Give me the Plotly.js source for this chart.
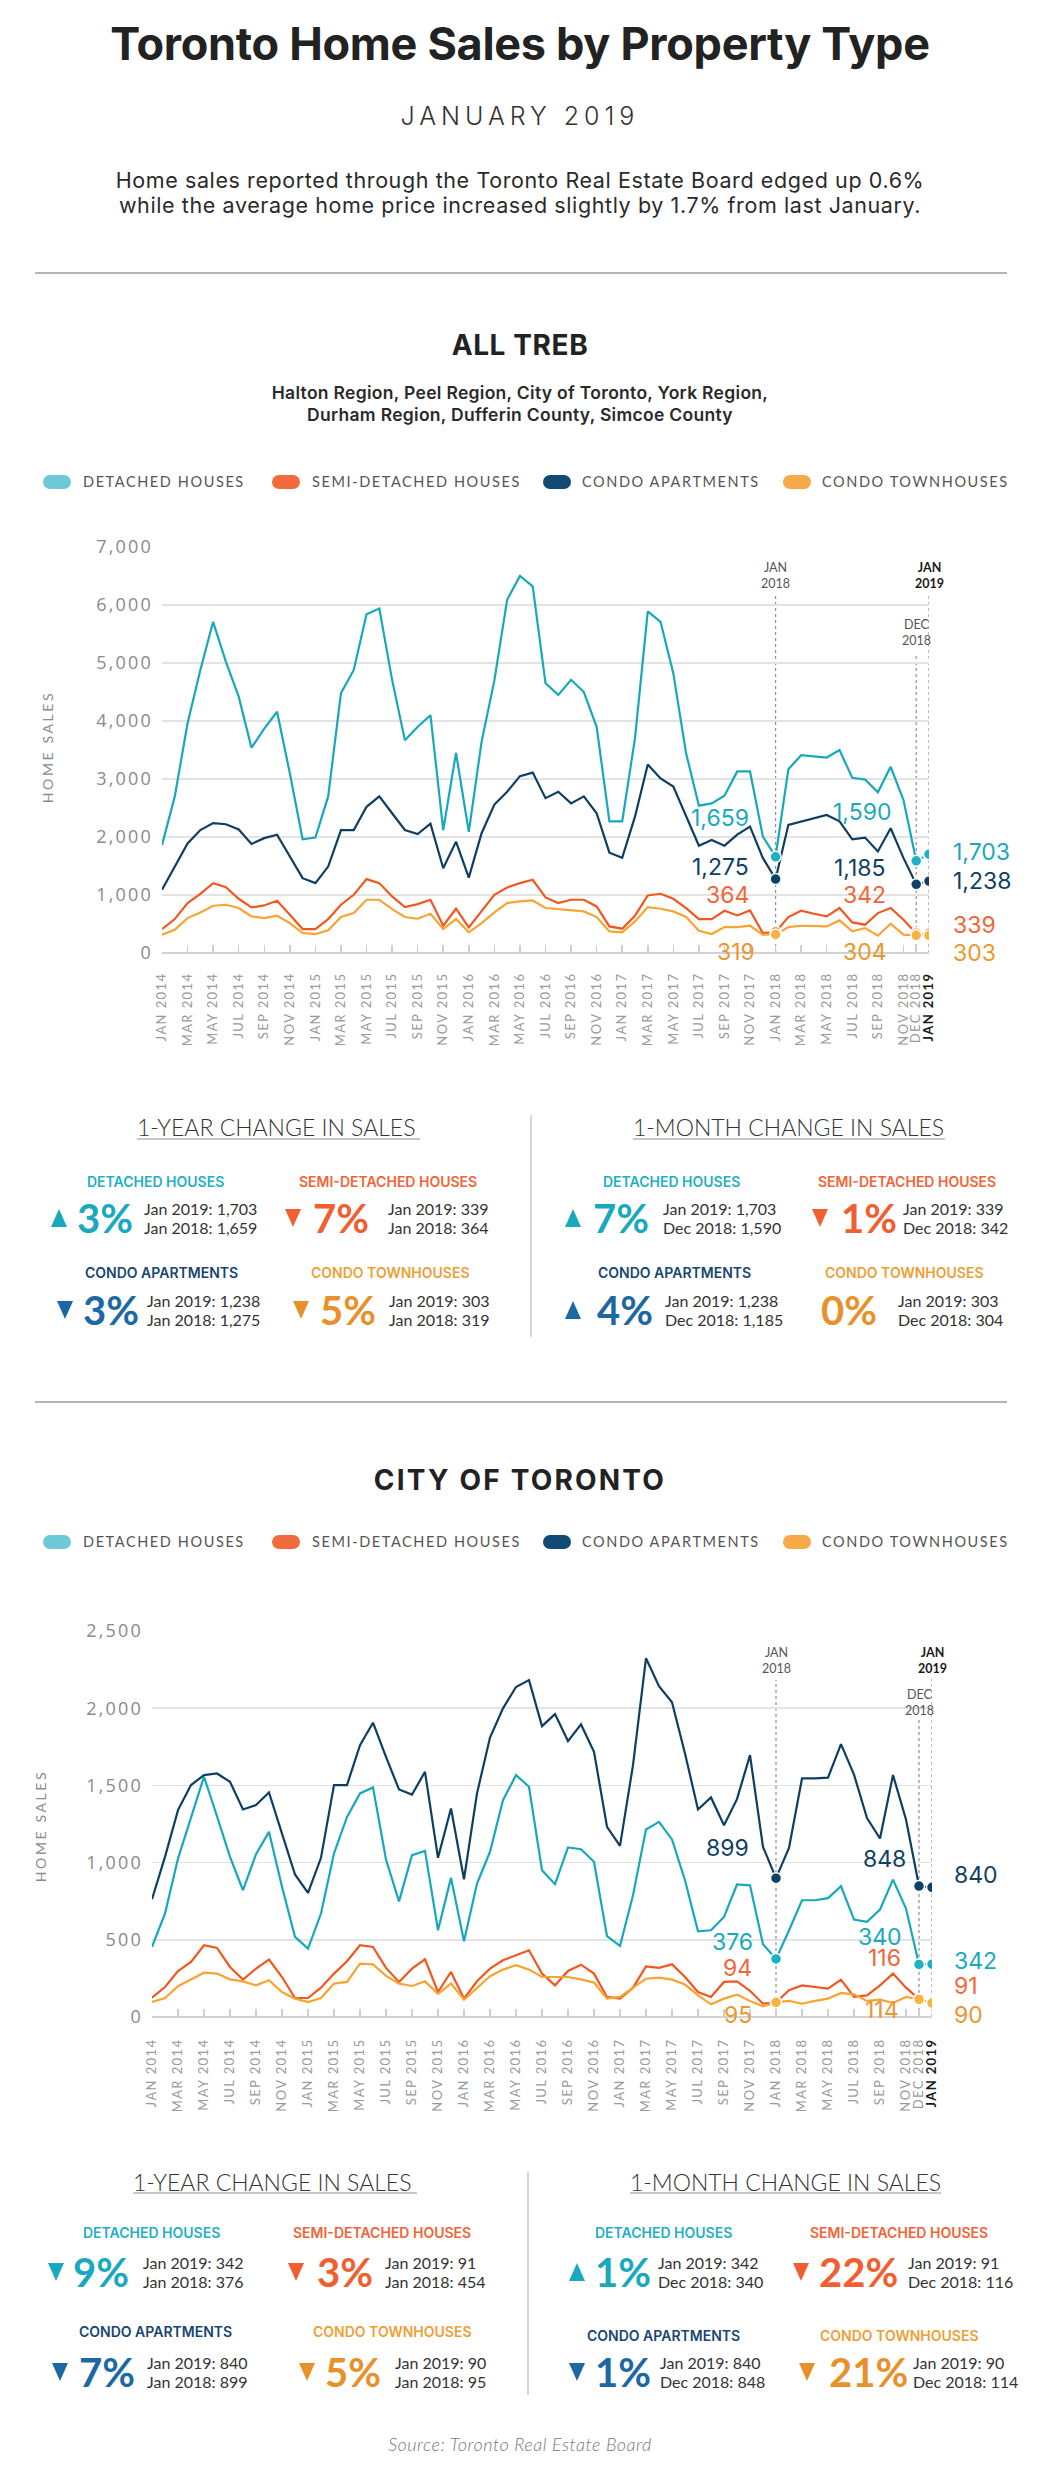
<!DOCTYPE html>
<html><head><meta charset="utf-8">
<script src="https://cdn.plot.ly/plotly-3.0.1.min.js"></script>
<style>
body{margin:0;background:#fff;}
#page{position:relative;width:1040px;height:2470px;overflow:hidden;font-family:Lato,"Open Sans",sans-serif;color:#333;background:#fff;}
.t{position:absolute;white-space:nowrap;}
.xtick text{letter-spacing:1.4px;}
.ytick text{letter-spacing:2.2px;}
.chart{position:absolute;left:0;width:1040px;}
.ytitle{position:absolute;white-space:nowrap;transform:translate(-50%,-50%) rotate(-90deg);font-family:Lato,sans-serif;font-size:14px;letter-spacing:2.6px;color:#8c8c8c;}
</style></head>
<body><div id="page">
<div id="chartAll" class="chart" style="top:500px;height:560px;"></div>
<div id="chartCity" class="chart" style="top:1590px;height:530px;"></div>
</div>
<script>
// ---------- DATA ----------
const monthNames = ['JAN','FEB','MAR','APR','MAY','JUN','JUL','AUG','SEP','OCT','NOV','DEC'];
const months = [];
for (let yr = 2014; yr <= 2018; yr++) { for (const m of monthNames) months.push(m + ' ' + yr); }
months.push('JAN 2019');

const tickLabels = ['JAN 2014','MAR 2014','MAY 2014','JUL 2014','SEP 2014','NOV 2014',
  'JAN 2015','MAR 2015','MAY 2015','JUL 2015','SEP 2015','NOV 2015',
  'JAN 2016','MAR 2016','MAY 2016','JUL 2016','SEP 2016','NOV 2016',
  'JAN 2017','MAR 2017','MAY 2017','JUL 2017','SEP 2017','NOV 2017',
  'JAN 2018','MAR 2018','MAY 2018','JUL 2018','SEP 2018','NOV 2018','DEC 2018','JAN 2019'];

// ALL TREB
const detachedAll = [1860,2700,3960,4880,5710,5020,4420,3540,3870,4160,3100,1960,1990,2700,4480,4880,5840,5940,4710,3670,3900,4100,2120,3450,2090,3640,4700,6090,6500,6320,4650,4450,4710,4500,3900,2270,2270,3700,5890,5710,4820,3440,2540,2580,2710,3130,3130,2010,1659,3170,3410,3390,3370,3500,3020,2990,2770,3210,2640,1590,1703];
const semiAll = [413,585,861,1021,1205,1136,935,786,820,901,660,413,413,585,832,1004,1274,1205,975,792,843,918,470,763,442,717,1004,1130,1205,1262,958,860,918,918,803,459,419,643,993,1021,935,775,585,585,729,648,734,345,364,620,729,677,631,775,528,488,688,775,574,342,339];
const condoAptAll = [1090,1490,1890,2120,2240,2220,2130,1880,1980,2040,1660,1290,1205,1490,2120,2120,2520,2700,2410,2120,2050,2230,1460,1920,1300,2065,2560,2780,3050,3110,2670,2780,2580,2700,2410,1730,1640,2350,3250,3010,2870,2350,1850,1950,1850,2040,2180,1640,1275,2210,2270,2320,2380,2270,1960,1990,1750,2150,1640,1185,1238];
const condoTownAll = [316,402,602,700,815,832,775,631,602,643,516,344,327,390,620,688,918,918,757,620,591,677,413,585,356,516,700,861,889,906,775,757,746,717,620,373,356,545,792,763,717,620,384,327,447,447,470,316,319,447,470,470,459,562,373,430,298,505,316,304,303];

// CITY OF TORONTO
const detachedCity = [454,670,1026,1296,1556,1300,1037,821,1054,1199,843,519,443,670,1059,1296,1448,1487,1020,749,1048,1076,562,901,490,864,1070,1404,1567,1491,951,860,1098,1087,1005,523,460,789,1214,1264,1150,886,555,562,648,858,853,471,376,560,756,756,770,847,631,616,696,890,702,340,342];
const semiCity = [125,194,298,357,465,447,324,242,313,372,259,123,123,190,281,361,465,454,318,227,313,374,162,292,119,231,313,367,400,432,281,205,298,339,281,130,119,190,328,318,341,259,162,130,227,231,170,86,94,173,205,194,184,242,130,140,205,281,190,116,91];
const condoAptCity = [763,1037,1340,1502,1567,1577,1523,1344,1372,1454,1188,923,804,1031,1502,1502,1761,1906,1685,1474,1441,1588,1031,1350,892,1448,1810,1999,2137,2182,1884,1962,1787,1895,1718,1232,1108,1631,2323,2143,2038,1707,1344,1422,1242,1411,1696,1102,899,1095,1545,1545,1550,1767,1570,1289,1156,1567,1279,848,840];
const condoTownCity = [97,123,199,242,287,281,244,231,205,238,162,119,97,123,216,227,346,341,266,216,201,231,151,216,112,188,264,307,335,307,259,259,259,244,223,119,130,190,248,255,242,210,140,82,119,145,104,69,95,104,86,104,119,156,147,104,112,91,130,114,90];

const seriesNames = ['DETACHED HOUSES','SEMI-DETACHED HOUSES','CONDO APARTMENTS','CONDO TOWNHOUSES'];

// ---------- STYLE ----------
const lineColors = ['#17a8bc','#f0581f','#0e3f63','#f7a431'];
const dotColors  = ['#1db1c4','#f2663b','#0f4166','#f9b340'];
const labelColors= ['#1aa9bc','#f26537','#0f3f63','#e9972e'];
const legendColors = ['#6ec9d6','#f26b3d','#114b74','#f6a947'];

const page = document.getElementById('page');
function addText(html, o) {
  const d = document.createElement('div');
  d.className = 't';
  d.innerHTML = html;
  const h = o.h || Math.round(o.size * 1.4);
  d.style.top = (o.y - h / 2) + 'px';
  d.style.height = h + 'px';
  d.style.lineHeight = h + 'px';
  d.style.fontSize = o.size + 'px';
  d.style.fontWeight = o.weight || 400;
  d.style.color = o.color || '#333';
  if (o.family) d.style.fontFamily = o.family;
  if (o.ls) d.style.letterSpacing = o.ls + 'px';
  if (o.italic) d.style.fontStyle = 'italic';
  if (o.center) { d.style.left = '0px'; d.style.width = '1040px'; d.style.textAlign = 'center'; }
  else d.style.left = o.x + 'px';
  page.appendChild(d);
  return d;
}
function addBox(x, y, w, h, color, radius) {
  const d = document.createElement('div');
  d.style.position = 'absolute';
  d.style.left = x + 'px'; d.style.top = y + 'px';
  d.style.width = w + 'px'; d.style.height = h + 'px';
  d.style.background = color;
  if (radius) d.style.borderRadius = radius + 'px';
  page.appendChild(d);
}
function addTri(x, yc, up, color) {
  const d = document.createElement('div');
  d.style.position = 'absolute';
  d.style.left = x + 'px'; d.style.top = (yc - 9) + 'px';
  d.style.width = '0'; d.style.height = '0';
  d.style.borderLeft = '8.5px solid transparent';
  d.style.borderRight = '8.5px solid transparent';
  if (up) d.style.borderBottom = '18px solid ' + color;
  else d.style.borderTop = '18px solid ' + color;
  page.appendChild(d);
}
function addYTitle(x, y) {
  const d = document.createElement('div');
  d.className = 'ytitle';
  d.textContent = 'HOME SALES';
  d.style.left = x + 'px'; d.style.top = y + 'px';
  page.appendChild(d);
}

const INTER = 'Inter, Lato, sans-serif';
// ---------- HEADER ----------
addText('Toronto Home Sales by Property Type', {center:true, y:44, size:45, weight:700, color:'#222', h:58, family:INTER, ls:-0.3});
addText('JANUARY 2019', {center:true, y:116, size:25, weight:300, color:'#333', ls:5, family:INTER});
addText('Home sales reported through the Toronto Real Estate Board edged up 0.6%', {center:true, y:180, size:21.5, color:'#2a2a2a', h:25, family:INTER, ls:0.6});
addText('while the average home price increased slightly by 1.7% from last January.', {center:true, y:205, size:21.5, color:'#2a2a2a', h:25, family:INTER, ls:0.6});
addBox(35, 272, 972, 2, '#b4b4b4');

function sectionHead(title, yTitle, titleLs, sub, yLegend) {
  addText(title, {center:true, y:yTitle, size:28, weight:700, color:'#222', ls:titleLs, family:INTER});
  sub.forEach(s => addText(s.text, {center:true, y:s.y, size:17.5, weight:600, color:'#2a2a2a', h:22, family:INTER, ls:0.3}));
  const mx = [43, 272, 543, 783];
  const tx = [83, 312, 582, 822];
  seriesNames.forEach((n, k) => {
    addBox(mx[k], yLegend - 7, 28, 14, legendColors[k], 7);
    addText(n, {x:tx[k], y:yLegend, size:14.5, color:'#555', ls:1.6});
  });
}
sectionHead('ALL TREB', 345, 0.6, [
  {text:'Halton Region, Peel Region, City of Toronto, York Region,', y:393},
  {text:'Durham Region, Dufferin County, Simcoe County', y:415}], 482);
addBox(35, 1401, 972, 2, '#b4b4b4');
sectionHead('CITY OF TORONTO', 1480, 2.2, [], 1542);
addYTitle(47, 747);
addYTitle(40, 1826);

// ---------- STATS ----------
const catColors = {
  det:{label:'#1fb0c3', pct:'#18a9be'},
  semi:{label:'#f26436', pct:'#f15f30'},
  apt:{label:'#174670', pct:'#1b68a3'},
  th:{label:'#ef9e36', pct:'#e8912b'}
};
function statsBlock(cfg) {
  addText('1-YEAR CHANGE IN SALES', {x:cfg.h1x, y:cfg.hy, size:23, weight:300, color:'#333'});
  addText('1-MONTH CHANGE IN SALES', {x:cfg.h2x, y:cfg.hy, size:23, weight:300, color:'#333'});
  addBox(cfg.h1x, cfg.uy, cfg.h1w, 2, '#c9c9c9');
  addBox(cfg.h2x, cfg.uy, cfg.h2w, 2, '#c9c9c9');
  addBox(cfg.vx, cfg.vy0, 1.5, cfg.vy1 - cfg.vy0, '#d8d8d8');
  cfg.items.forEach(it => {
    const c = catColors[it.cat];
    addText(it.label, {x:it.lx, y:it.ly, size:14, weight:600, color:c.label, family:INTER});
    if (it.dir) addTri(it.tx, it.ny, it.dir === 'up', c.pct);
    addText(it.pt, {x:it.px, y:it.ny, size:40, weight:700, color:c.pct, h:46});
    addText(it.l1, {x:it.sx, y:it.ny - 9, size:16, color:'#333', h:18});
    addText(it.l2, {x:it.sx, y:it.ny + 10, size:16, color:'#333', h:18});
  });
}
statsBlock({hy:1127, uy:1138, h1x:137, h1w:283, h2x:633, h2w:312, vx:530, vy0:1115, vy1:1337, items:[
  {cat:'det', label:'DETACHED HOUSES', lx:87, ly:1182, dir:'up', tx:51, pt:'3%', px:77, ny:1218, sx:144, l1:'Jan 2019: 1,703', l2:'Jan 2018: 1,659'},
  {cat:'semi', label:'SEMI-DETACHED HOUSES', lx:299, ly:1182, dir:'down', tx:285, pt:'7%', px:313, ny:1218, sx:388, l1:'Jan 2019: 339', l2:'Jan 2018: 364'},
  {cat:'det', label:'DETACHED HOUSES', lx:603, ly:1182, dir:'up', tx:565, pt:'7%', px:593, ny:1218, sx:663, l1:'Jan 2019: 1,703', l2:'Dec 2018: 1,590'},
  {cat:'semi', label:'SEMI-DETACHED HOUSES', lx:818, ly:1182, dir:'down', tx:812, pt:'1%', px:841, ny:1218, sx:903, l1:'Jan 2019: 339', l2:'Dec 2018: 342'},
  {cat:'apt', label:'CONDO APARTMENTS', lx:85, ly:1273, dir:'down', tx:57, pt:'3%', px:83, ny:1310, sx:147, l1:'Jan 2019: 1,238', l2:'Jan 2018: 1,275'},
  {cat:'th', label:'CONDO TOWNHOUSES', lx:311, ly:1273, dir:'down', tx:293, pt:'5%', px:320, ny:1310, sx:389, l1:'Jan 2019: 303', l2:'Jan 2018: 319'},
  {cat:'apt', label:'CONDO APARTMENTS', lx:598, ly:1273, dir:'up', tx:565, pt:'4%', px:597, ny:1310, sx:665, l1:'Jan 2019: 1,238', l2:'Dec 2018: 1,185'},
  {cat:'th', label:'CONDO TOWNHOUSES', lx:825, ly:1273, dir:null, tx:0, pt:'0%', px:821, ny:1310, sx:898, l1:'Jan 2019: 303', l2:'Dec 2018: 304'}
]});
statsBlock({hy:2182, uy:2192, h1x:133, h1w:284, h2x:630, h2w:311, vx:527, vy0:2172, vy1:2395, items:[
  {cat:'det', label:'DETACHED HOUSES', lx:83, ly:2233, dir:'down', tx:48, pt:'9%', px:73, ny:2272, sx:143, l1:'Jan 2019: 342', l2:'Jan 2018: 376'},
  {cat:'semi', label:'SEMI-DETACHED HOUSES', lx:293, ly:2233, dir:'down', tx:288, pt:'3%', px:317, ny:2272, sx:385, l1:'Jan 2019: 91', l2:'Jan 2018: 454'},
  {cat:'det', label:'DETACHED HOUSES', lx:595, ly:2233, dir:'up', tx:569, pt:'1%', px:595, ny:2272, sx:658, l1:'Jan 2019: 342', l2:'Dec 2018: 340'},
  {cat:'semi', label:'SEMI-DETACHED HOUSES', lx:810, ly:2233, dir:'down', tx:793, pt:'22%', px:819, ny:2272, sx:908, l1:'Jan 2019: 91', l2:'Dec 2018: 116'},
  {cat:'apt', label:'CONDO APARTMENTS', lx:79, ly:2332, dir:'down', tx:52, pt:'7%', px:79, ny:2372, sx:147, l1:'Jan 2019: 840', l2:'Jan 2018: 899'},
  {cat:'th', label:'CONDO TOWNHOUSES', lx:313, ly:2332, dir:'down', tx:299, pt:'5%', px:325, ny:2372, sx:395, l1:'Jan 2019: 90', l2:'Jan 2018: 95'},
  {cat:'apt', label:'CONDO APARTMENTS', lx:587, ly:2336, dir:'down', tx:569, pt:'1%', px:595, ny:2372, sx:660, l1:'Jan 2019: 840', l2:'Dec 2018: 848'},
  {cat:'th', label:'CONDO TOWNHOUSES', lx:820, ly:2336, dir:'down', tx:799, pt:'21%', px:829, ny:2372, sx:913, l1:'Jan 2019: 90', l2:'Dec 2018: 114'}
]});
addText('Source: Toronto Real Estate Board', {center:true, y:2444, size:18, weight:300, italic:true, color:'#777', ls:0.5});

// ---------- CHARTS ----------
const fmt = v => v.toLocaleString('en-US');
const iJan18 = months.indexOf('JAN 2018'), iDec18 = months.indexOf('DEC 2018'), iJan19 = months.indexOf('JAN 2019');

function makeChart(divId, seriesVals, cfg) {
  const traces = [];
  seriesVals.forEach((vals, k) => {
    traces.push({x: months.slice(0, iDec18 + 1), y: vals.slice(0, iDec18 + 1), type:'scatter', mode:'lines',
      line:{color:lineColors[k], width:2.2}, hoverinfo:'skip', showlegend:false});
    traces.push({x: months.slice(iDec18), y: vals.slice(iDec18), type:'scatter', mode:'lines',
      line:{color:lineColors[k], width:2, dash:'dot'}, hoverinfo:'skip', showlegend:false});
  });
  seriesVals.forEach((vals, k) => {
    const idx = [iJan18, iDec18, iJan19];
    traces.push({x: idx.map(i => months[i]), y: idx.map(i => vals[i]), type:'scatter', mode:'markers',
      marker:{color:dotColors[k], size:11, line:{color:'#ffffff', width:1.5}}, hoverinfo:'skip', showlegend:false});
  });
  const ann = [];
  seriesVals.forEach((vals, k) => {
    const offs = cfg.labelOffsets[k];
    [iJan18, iDec18, iJan19].forEach((i, j) => {
      ann.push({x: months[i], y: vals[i], xref:'x', yref:'y', text: fmt(vals[i]), showarrow:false,
        xanchor: j === 2 ? 'left' : 'right', yanchor:'middle', xshift: offs[j][0], yshift: offs[j][1],
        borderpad:0, font:{family:'Inter, Lato, sans-serif', size:23, color:labelColors[k]}});
    });
  });
  ann.push({x:'JAN 2018', y:cfg.labJan, xref:'x', yref:'paper', text:'JAN<br>2018', showarrow:false, yanchor:'middle',
    font:{family:'Lato, sans-serif', size:12.5, color:'#555'}});
  ann.push({x:'DEC 2018', y:cfg.labDec, xref:'x', yref:'paper', text:'DEC<br>2018', showarrow:false, yanchor:'middle',
    font:{family:'Lato, sans-serif', size:12.5, color:'#555'}});
  ann.push({x:'JAN 2019', y:cfg.labJan, xref:'x', yref:'paper', text:'<b>JAN<br>2019</b>', showarrow:false, yanchor:'middle',
    font:{family:'Lato, sans-serif', size:12.5, color:'#1a1a1a'}});
  const shapes = [
    {type:'line', xref:'x', yref:'paper', x0:'JAN 2018', x1:'JAN 2018', y0:0, y1:cfg.lineJan, layer:'below', line:{color:'#8f8f8f', width:1.2, dash:'dot'}},
    {type:'line', xref:'x', yref:'paper', x0:'DEC 2018', x1:'DEC 2018', y0:0, y1:cfg.lineDec, layer:'below', line:{color:'#8f8f8f', width:1.2, dash:'dot'}},
    {type:'line', xref:'x', yref:'paper', x0:'JAN 2019', x1:'JAN 2019', y0:0, y1:cfg.lineJan19, layer:'below', line:{color:'#8f8f8f', width:1.2, dash:'dot'}}
  ];
  const layout = {
    width:1040, height:cfg.height,
    margin:{l:cfg.ml, r:cfg.mr, t:cfg.mt, b:cfg.mb},
    paper_bgcolor:'rgba(0,0,0,0)', plot_bgcolor:'rgba(0,0,0,0)',
    showlegend:false,
    xaxis:{type:'category', categoryorder:'array', categoryarray:months, range:[0, months.length - 1],
      tickmode:'array', tickvals:tickLabels,
      ticktext:tickLabels.map(l => l === 'JAN 2019' ? '<span style="color:#1a1a1a"><b>JAN 2019</b></span>' : l),
      tickangle:-90, ticks:'inside', ticklen:8, tickcolor:'#cfcfcf', tickwidth:1.5,
      ticklabelstandoff:cfg.xStand,
      tickfont:{family:'Lato, sans-serif', size:13, color:'#9a9a9a'},
      showgrid:false, showline:false, zeroline:false, fixedrange:true},
    yaxis:{range:[0, cfg.ymax], tickmode:'linear', tick0:0, dtick:cfg.dtick, tickformat:',',
      showgrid:true, gridcolor:'#e3e3e3', gridwidth:1.5, zeroline:true, zerolinecolor:'#d2d2d2', zerolinewidth:1.8,
      showline:false, ticks:'', ticklabelstandoff:cfg.yStand,
      tickfont:{family:'"Open Sans", sans-serif', size:18, color:'#8a8a8a'}, fixedrange:true},
    annotations:ann, shapes:shapes
  };
  Plotly.newPlot(divId, traces, layout, {staticPlot:true, displayModeBar:false});
}

// label offsets [Jan2018, Dec2018, Jan2019] as [xshift, yshift] per series (det, semi, apt, th)
makeChart('chartAll', [detachedAll, semiAll, condoAptAll, condoTownAll], {
  height:560, ml:162, mr:111, mt:47, mb:107, ymax:7000, dtick:1000,
  xStand:16, yStand:8,
  labJan:0.931, labDec:0.789, lineJan:0.887, lineDec:0.739, lineJan19:0.882,
  labelOffsets:[
    [[-26,39],[-24,49],[23,2]],
    [[-26,37],[-29,38],[23,8]],
    [[-26,12],[-29,16],[23,0]],
    [[-20,-17],[-28,-17],[23,-18]]
  ]
});
makeChart('chartCity', [detachedCity, semiCity, condoAptCity, condoTownCity], {
  height:530, ml:152, mr:108, mt:41, mb:103, ymax:2500, dtick:500,
  xStand:18, yStand:8,
  labJan:0.924, labDec:0.816, lineJan:0.873, lineDec:0.775, lineJan19:0.876,
  labelOffsets:[
    [[-22,17],[-16,28],[21,3]],
    [[-23,34],[-17,41],[21,17]],
    [[-26,30],[-12,27],[21,12]],
    [[-23,-13],[-19,-11],[21,-12]]
  ]
});
</script>
</body></html>
